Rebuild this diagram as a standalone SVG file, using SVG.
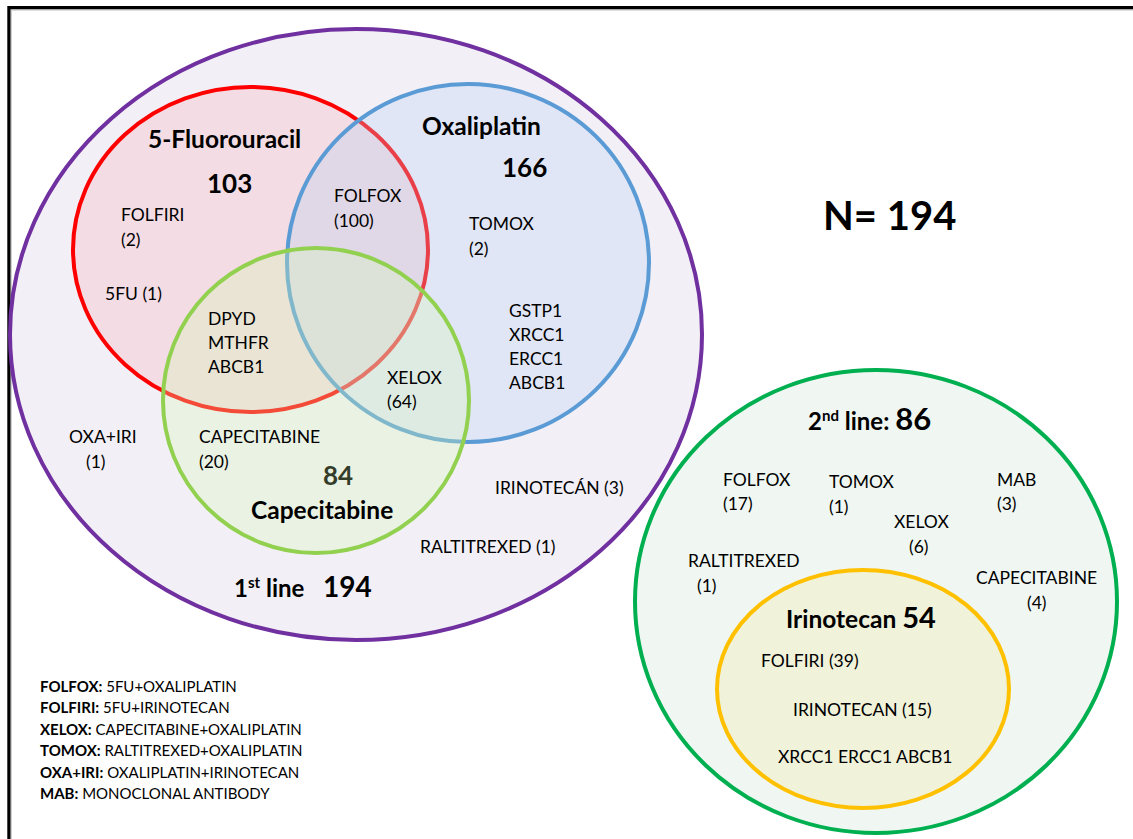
<svg xmlns="http://www.w3.org/2000/svg" width="1133" height="839" viewBox="0 0 1133 839">
<style>
text{font-family:Lato,"Liberation Sans",sans-serif;fill:#000}
.t{font-size:17.5px}
.b{font-weight:bold}
.lg{font-size:15px}
.ttl{font-size:24.5px;font-weight:bold}
.num{font-size:26px;font-weight:bold}
</style>
<rect x="0" y="0" width="1133" height="839" fill="#fff"/>
<rect x="9" y="7.7" width="1140" height="850" fill="none" stroke="#000" stroke-width="3.4"/>
<path d="M10.7 10 H1133 M11.2 10 V839" fill="none" stroke="#bbb" stroke-width="1"/>
<g id="first-line">
<ellipse cx="356" cy="334.5" rx="346" ry="305.5" fill="#f2f0f6" stroke="#7030a0" stroke-width="4"/>
</g>
<g id="fluorouracil">
<ellipse cx="250.5" cy="249.5" rx="177.5" ry="162.5" fill="#f5b1b7" fill-opacity="0.3" stroke="#ff0000" stroke-width="4"/>
</g>
<g id="oxaliplatin">
<ellipse cx="468" cy="263" rx="181" ry="179" fill="#b6d2f3" fill-opacity="0.3" stroke="#5b9bd5" stroke-width="4"/>
</g>
<g id="capecitabine">
<ellipse cx="316" cy="400.5" rx="153" ry="152.5" fill="#d7fab7" fill-opacity="0.3" stroke="#92d050" stroke-width="4"/>
</g>
<g id="second-line">
<ellipse cx="876" cy="601.5" rx="241" ry="231.5" fill="#f0f7f2" stroke="#00b050" stroke-width="4"/>
</g>
<g id="irinotecan">
<ellipse cx="863" cy="689" rx="146" ry="119" fill="#f0f2da" stroke="#ffc000" stroke-width="4"/>
</g>
<g id="connectors"></g>
<g id="labels-first-line">
<text class="ttl" x="148" y="148">5-Fluorouracil</text>
<text class="num" x="207" y="193">103</text>
<text class="t" x="121" y="221">FOLFIRI</text>
<text class="t" x="121" y="246">(2)</text>
<text class="t" x="105" y="300">5FU (1)</text>
<text class="ttl" x="422" y="135">Oxaliplatin</text>
<text class="num" x="502" y="177">166</text>
<text class="t" x="334" y="202">FOLFOX</text>
<text class="t" x="334" y="227">(100)</text>
<text class="t" x="469" y="230">TOMOX</text>
<text class="t" x="469" y="255">(2)</text>
<text class="t" x="509" y="317">GSTP1</text>
<text class="t" x="509" y="341">XRCC1</text>
<text class="t" x="509" y="365">ERCC1</text>
<text class="t" x="509" y="389">ABCB1</text>
<text class="t" x="208" y="325">DPYD</text>
<text class="t" x="208" y="349">MTHFR</text>
<text class="t" x="208" y="373">ABCB1</text>
<text class="t" x="387" y="384">XELOX</text>
<text class="t" x="387" y="408">(64)</text>
<text class="t" x="199" y="443">CAPECITABINE</text>
<text class="t" x="199" y="468">(20)</text>
<text class="num" x="323" y="485" style="fill:#333d29">84</text>
<text class="ttl" x="251" y="519">Capecitabine</text>
<text class="t" x="69" y="443">OXA+IRI</text>
<text class="t" x="86" y="468">(1)</text>
<text class="t" x="495" y="494">IRINOTECÁN (3)</text>
<text class="t" x="420" y="553">RALTITREXED (1)</text>
<text class="b" x="234" y="597" style="font-size:24px">1<tspan dy="-9" style="font-size:15px">st</tspan><tspan dy="9"> line</tspan><tspan x="323" style="font-size:28px">194</tspan></text>
</g>
<g id="labels-second-line">
<text class="b" x="808" y="430" style="font-size:24px">2<tspan dy="-9" style="font-size:15px">nd</tspan><tspan dy="9"> line: </tspan><tspan style="font-size:31px">86</tspan></text>
<text class="t" x="723" y="486">FOLFOX</text>
<text class="t" x="723" y="510">(17)</text>
<text class="t" x="829" y="488">TOMOX</text>
<text class="t" x="829" y="513">(1)</text>
<text class="t" x="997" y="486">MAB</text>
<text class="t" x="997" y="510">(3)</text>
<text class="t" x="894" y="528">XELOX</text>
<text class="t" x="909" y="553">(6)</text>
<text class="t" x="688" y="567">RALTITREXED</text>
<text class="t" x="697" y="592">(1)</text>
<text class="t" x="976" y="584">CAPECITABINE</text>
<text class="t" x="1027" y="609">(4)</text>
<text class="b" x="786" y="628" style="font-size:24.5px">Irinotecan <tspan style="font-size:29px">54</tspan></text>
<text class="t" x="761" y="667">FOLFIRI (39)</text>
<text class="t" x="793" y="716">IRINOTECAN (15)</text>
<text class="t" x="778" y="763">XRCC1 ERCC1 ABCB1</text>
</g>
<g id="total">
<text class="b" x="823" y="230" style="font-size:40px">N= 194</text>
</g>
<g id="legend">
<text class="lg" x="40" y="692"><tspan class="b">FOLFOX:</tspan> 5FU+OXALIPLATIN</text>
<text class="lg" x="40" y="713"><tspan class="b">FOLFIRI:</tspan> 5FU+IRINOTECAN</text>
<text class="lg" x="40" y="735"><tspan class="b">XELOX:</tspan> CAPECITABINE+OXALIPLATIN</text>
<text class="lg" x="40" y="756"><tspan class="b">TOMOX:</tspan> RALTITREXED+OXALIPLATIN</text>
<text class="lg" x="40" y="778"><tspan class="b">OXA+IRI:</tspan> OXALIPLATIN+IRINOTECAN</text>
<text class="lg" x="40" y="799"><tspan class="b">MAB:</tspan> MONOCLONAL ANTIBODY</text>
</g>
</svg>
